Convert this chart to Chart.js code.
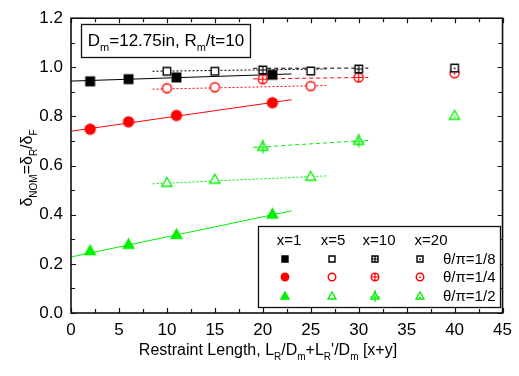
<!DOCTYPE html>
<html><head><meta charset="utf-8">
<script src="https://cdn.jsdelivr.net/npm/chart.js@4/dist/chart.umd.min.js"></script>
<style>html,body{margin:0;padding:0;background:#fff}#wrap{width:519px;height:376px}</style>
</head><body><div id="wrap"><canvas id="c" width="519" height="376"></canvas></div>
<script>
// ---- data ----
const lenX1 = [2, 6, 11, 21];
const lenX5 = [10, 15, 25];
const lenX10 = [20, 30];
const lenX20 = [40];
const a18X1 = [0.943, 0.952, 0.959, 0.970];
const a18X5 = [0.984, 0.984, 0.985];
const a18X10 = [0.989, 0.993];
const a18X20 = [0.997];
const a14X1 = [0.748, 0.778, 0.804, 0.856];
const a14X5 = [0.915, 0.919, 0.924];
const a14X10 = [0.952, 0.959];
const a14X20 = [0.976];
const a12X1 = [0.254, 0.280, 0.320, 0.403];
const a12X5 = [0.531, 0.544, 0.556];
const a12X10 = [0.678, 0.702];
const a12X20 = [0.804];
// fitted trend lines (end points)
const fitLenX1 = [0, 23];
const fitLenX5 = [8.5, 26.6];
const fitLenX10 = [19, 31];
const fit18X1 = [0.944, 0.973];
const fit18X5 = [0.984, 0.993];
const fit18X10 = [0.996, 0.997];
const fit14X1 = [0.740, 0.868];
const fit14X5 = [0.911, 0.926];
const fit14X10 = [0.953, 0.959];
const fit12X1 = [0.228, 0.416];
const fit12X5 = [0.526, 0.558];
const fit12X10 = [0.674, 0.703];
const xTicks = [0, 5, 10, 15, 20, 25, 30, 35, 40, 45];
const yTicks = [0, 0.2, 0.4, 0.6, 0.8, 1.0, 1.2];
const colX = ['x=1', 'x=5', 'x=10', 'x=20'];
const rowLabels = ['\u03b8/\u03c0=1/8', '\u03b8/\u03c0=1/4', '\u03b8/\u03c0=1/2'];

const BLACK = '#000000', RED = '#ff0000', GREEN = '#00f000';
const FONT = '"Liberation Sans", Arial, sans-serif';

function marker(shape, color, filled, inner, size) {
  const n = Math.ceil(size + 8);
  const c = document.createElement('canvas');
  c.width = n; c.height = n;
  const g = c.getContext('2d');
  const cx = n / 2, cy = n / 2, h = size / 2;
  g.strokeStyle = color; g.fillStyle = filled ? color : '#fff'; g.lineWidth = 1.4;
  g.beginPath();
  if (shape === 'rect') g.rect(cx - h, cy - h, size, size);
  else if (shape === 'circle') g.arc(cx, cy, h, 0, Math.PI * 2);
  else { g.moveTo(cx, cy - h); g.lineTo(cx + h, cy + h * 0.75); g.lineTo(cx - h, cy + h * 0.75); g.closePath(); }
  g.fill(); g.stroke();
  if (inner === 'plus') {
    g.lineWidth = 1.2;
    g.beginPath();
    if (shape === 'tri') {
      g.moveTo(cx, cy - h - 2); g.lineTo(cx, cy + h + 2);
      g.moveTo(cx - h - 1, cy + 1); g.lineTo(cx + h + 1, cy + 1);
    } else {
      g.moveTo(cx, cy - h); g.lineTo(cx, cy + h);
      g.moveTo(cx - h, cy); g.lineTo(cx + h, cy);
    }
    g.stroke();
  } else if (inner === 'dot') {
    g.fillStyle = color;
    g.fillRect(cx - 0.8, cy - 0.5 + (shape === 'tri' ? 1 : 0), 1.6, 1.6);
  }
  return c;
}

const rowDefs = [
  {color: BLACK, shape: 'rect', sizes: [8.5, 7.5, 7.5, 7.5], lsizes: [6, 6, 6, 6], ys: [a18X1, a18X5, a18X10, a18X20], fits: [fit18X1, fit18X5, fit18X10]},
  {color: RED, shape: 'circle', sizes: [10, 9, 9, 9], lsizes: [7.5, 7.5, 7.5, 7.5], ys: [a14X1, a14X5, a14X10, a14X20], fits: [fit14X1, fit14X5, fit14X10]},
  {color: GREEN, shape: 'tri', sizes: [10.5, 10, 10, 10], lsizes: [8, 8, 8, 8], ys: [a12X1, a12X5, a12X10, a12X20], fits: [fit12X1, fit12X5, fit12X10]}
];
const colDefs = [
  {xs: lenX1, filled: true, inner: null, fitXs: fitLenX1, dash: []},
  {xs: lenX5, filled: false, inner: null, fitXs: fitLenX5, dash: [2, 2]},
  {xs: lenX10, filled: false, inner: 'plus', fitXs: fitLenX10, dash: [4, 3]},
  {xs: lenX20, filled: false, inner: 'dot', fitXs: null, dash: []}
];

const datasets = [];
const legendMarks = [];
rowDefs.forEach((r, ri) => {
  legendMarks.push([]);
  colDefs.forEach((cd, ci) => {
    if (cd.fitXs) {
      const fy = r.fits[ci];
      datasets.push({type: 'line', data: cd.fitXs.map((x, i) => ({x, y: fy[i]})),
        borderColor: r.color, borderWidth: 1, borderDash: cd.dash, pointRadius: 0, fill: false, order: 2});
    }
    const img = marker(r.shape, r.color, cd.filled, cd.inner, r.sizes[ci]);
    datasets.push({type: 'scatter', data: cd.xs.map((x, i) => ({x, y: r.ys[ci][i]})),
      pointStyle: img, pointRadius: 5, showLine: false, order: 1});
    legendMarks[ri].push(marker(r.shape, r.color, cd.filled, cd.inner, r.lsizes[ci]));
  });
});

function drawRich(ctx, parts, x, y, size, align) {
  const sub = Math.round(size * 0.62);
  let w = 0;
  parts.forEach(p => { ctx.font = (p[1] ? sub : size) + 'px ' + FONT; w += ctx.measureText(p[0]).width; });
  let cx = align === 'center' ? x - w / 2 : x;
  ctx.textBaseline = 'alphabetic'; ctx.textAlign = 'left';
  parts.forEach(p => {
    ctx.font = (p[1] ? sub : size) + 'px ' + FONT;
    ctx.fillText(p[0], cx, y + (p[1] ? size * 0.3 : 0));
    cx += ctx.measureText(p[0]).width;
  });
}

const decor = {
  id: 'decor',
  afterDraw(chart) {
    const ctx = chart.ctx, a = chart.chartArea;
    const xs = chart.scales.x, ys = chart.scales.y;
    ctx.save();
    ctx.strokeStyle = '#111'; ctx.fillStyle = '#000';
    // ticks inward on all sides
    ctx.lineWidth = 1.2;
    ctx.beginPath();
    for (let v = 0; v <= 45.001; v += 2.5) {
      const px = Math.round(xs.getPixelForValue(v)) + 0.5;
      const len = (Math.abs(v / 5 - Math.round(v / 5)) < 1e-6) ? 5 : 4;
      ctx.moveTo(px, a.bottom); ctx.lineTo(px, a.bottom - len);
      ctx.moveTo(px, a.top); ctx.lineTo(px, a.top + len);
    }
    for (let v = 0; v <= 1.2001; v += 0.1) {
      const py = Math.round(ys.getPixelForValue(v)) + 0.5;
      const len = (Math.abs(v / 0.2 - Math.round(v / 0.2)) < 1e-6) ? 5 : 4;
      ctx.moveTo(a.left, py); ctx.lineTo(a.left + len, py);
      ctx.moveTo(a.right, py); ctx.lineTo(a.right - len, py);
    }
    ctx.stroke();
    ctx.lineWidth = 1.6;
    ctx.strokeRect(a.left, a.top, a.right - a.left, a.bottom - a.top);

    // annotation box
    ctx.lineWidth = 1.3;
    ctx.strokeRect(81.5, 24.5, 169, 33);
    ctx.fillStyle = '#000';
    drawRich(ctx, [['D'], ['m', 1], ['=12.75in, R'], ['m', 1], ['/t=10']], 166, 46, 17, 'center');

    // legend box
    ctx.fillStyle = '#fff';
    ctx.fillRect(258.5, 226.5, 242, 81);
    ctx.strokeRect(258.5, 226.5, 242, 81);
    ctx.fillStyle = '#000';
    ctx.font = '15px ' + FONT; ctx.textAlign = 'center'; ctx.textBaseline = 'middle';
    const hx = [289, 333, 379, 431];
    colX.forEach((t, i) => ctx.fillText(t, hx[i], 241));
    const mx = [285, 331.5, 375, 420];
    const ry = [258.5, 277, 295.5];
    legendMarks.forEach((row, ri) => {
      row.forEach((img, ci) => ctx.drawImage(img, Math.round(mx[ci] - img.width / 2), Math.round(ry[ri] - img.height / 2)));
      ctx.textAlign = 'left';
      ctx.fillText(rowLabels[ri], 443, ry[ri] + 1);
    });

    // axis titles
    ctx.fillStyle = '#000';
    drawRich(ctx, [['Restraint Length, L'], ['R', 1], ['/D'], ['m', 1], ['+L'], ['R', 1], ["'/D"], ['m', 1], [' [x+y]']], 268, 355, 16, 'center');
    ctx.save();
    ctx.translate(32, 168);
    ctx.rotate(-Math.PI / 2);
    drawRich(ctx, [['\u03b4'], ['NOM', 1], ['=\u03b4'], ['R', 1], ['/\u03b4'], ['F', 1]], 0, 0, 16, 'center');
    ctx.restore();
    ctx.restore();
  }
};

new Chart(document.getElementById('c'), {
  type: 'scatter',
  data: {datasets},
  options: {
    responsive: false, animation: false, devicePixelRatio: 1,
    layout: {padding: {left: 0, right: 15, top: 13, bottom: 0}},
    plugins: {legend: {display: false}, tooltip: {enabled: false}},
    scales: {
      x: {type: 'linear', min: 0, max: 45,
        afterBuildTicks: s => { s.ticks = xTicks.map(v => ({value: v})); },
        ticks: {color: '#000', font: {size: 17, family: FONT}, padding: 7, maxRotation: 0},
        grid: {display: false, drawTicks: false}, border: {display: false},
        afterFit: s => { s.height = 63; }},
      y: {type: 'linear', min: 0, max: 1.2,
        afterBuildTicks: s => { s.ticks = yTicks.map(v => ({value: v})); },
        ticks: {color: '#000', font: {size: 17, family: FONT}, padding: 8, callback: v => Number(v).toFixed(1)},
        grid: {display: false, drawTicks: false}, border: {display: false},
        afterFit: s => { s.width = 71; }}
    }
  },
  plugins: [decor]
});
</script></body></html>
